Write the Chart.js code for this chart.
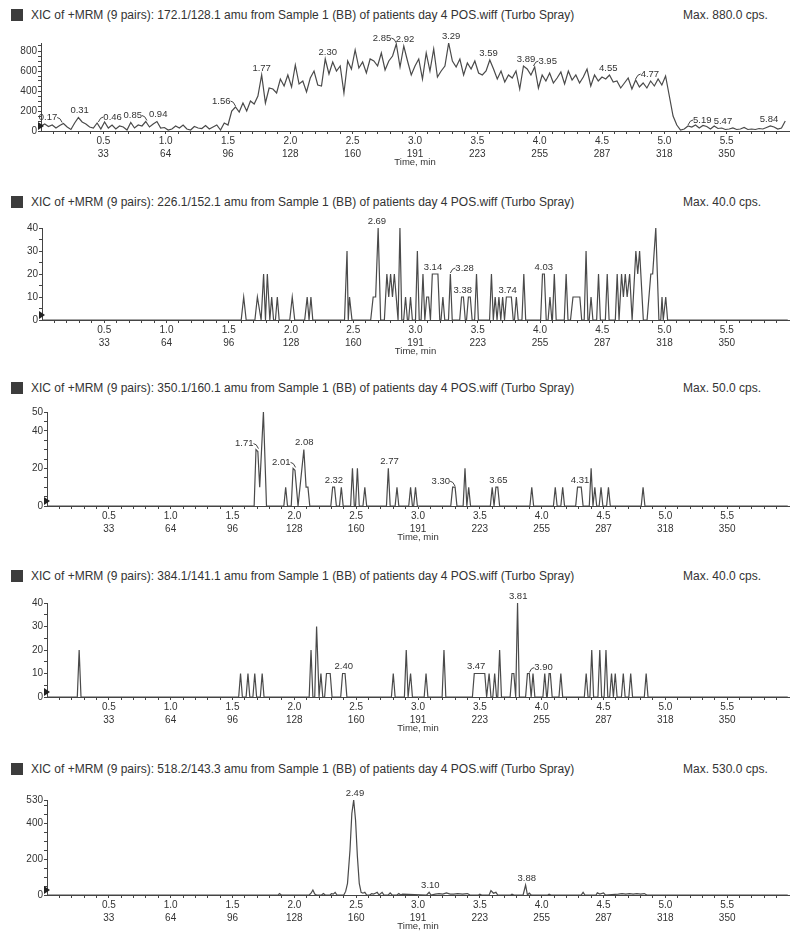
<!DOCTYPE html>
<html>
<head>
<meta charset="utf-8">
<script src="https://cdn.jsdelivr.net/npm/chart.js@4.4.1/dist/chart.umd.min.js"></script>
<style>
body { margin: 0; background: #fff; width: 800px; height: 937px; position: relative; overflow: hidden; font-family: "Liberation Sans", Arial, sans-serif; }
.title { position: absolute; left: 11px; font-size: 12px; color: #333; white-space: nowrap; line-height: 14px; }
.title .sq { display: inline-block; width: 12px; height: 12px; background: #3c3c3c; vertical-align: -2px; margin-right: 8px; }
.max { position: absolute; left: 683px; font-size: 12px; color: #333; line-height: 14px; white-space: nowrap; }
canvas { position: absolute; left: 0; }
</style>
</head>
<body>
<script>
// ---- axis labels ----
const xMajor = [0.5, 1.0, 1.5, 2.0, 2.5, 3.0, 3.5, 4.0, 4.5, 5.0, 5.5];
const scanLabels = [33, 64, 96, 128, 160, 191, 223, 255, 287, 318, 350];

const titles = [
  "XIC of +MRM (9 pairs): 172.1/128.1 amu from Sample 1 (BB) of patients day 4 POS.wiff (Turbo Spray)",
  "XIC of +MRM (9 pairs): 226.1/152.1 amu from Sample 1 (BB) of patients day 4 POS.wiff (Turbo Spray)",
  "XIC of +MRM (9 pairs): 350.1/160.1 amu from Sample 1 (BB) of patients day 4 POS.wiff (Turbo Spray)",
  "XIC of +MRM (9 pairs): 384.1/141.1 amu from Sample 1 (BB) of patients day 4 POS.wiff (Turbo Spray)",
  "XIC of +MRM (9 pairs): 518.2/143.3 amu from Sample 1 (BB) of patients day 4 POS.wiff (Turbo Spray)"
];
const maxLabels = ["Max. 880.0 cps.", "Max. 40.0 cps.", "Max. 50.0 cps.", "Max. 40.0 cps.", "Max. 530.0 cps."];
const yMax = [880, 40, 50, 40, 530];
const yMajor1 = [0, 200, 400, 600, 800];
const yMajor2 = [0, 10, 20, 30, 40];
const yMajor3 = [0, 20, 40, 50];
const yMajor4 = [0, 10, 20, 30, 40];
const yMajor5 = [0, 200, 400, 530];

// ---- 172.1/128.1 ----
const times1 = [
  0.00,0.03,0.06,0.09,0.12,0.15,0.18,0.21,0.24,0.27,
  0.30,0.33,0.36,0.39,0.42,0.45,0.48,0.51,0.54,0.57,
  0.60,0.63,0.66,0.69,0.72,0.75,0.78,0.81,0.84,0.87,
  0.90,0.93,0.96,0.99,1.02,1.05,1.08,1.11,1.14,1.17,
  1.20,1.23,1.26,1.29,1.32,1.35,1.38,1.41,1.44,1.47,
  1.50,1.53,1.56,1.59,1.62,1.65,1.68,1.71,1.74,1.77,
  1.80,1.83,1.86,1.89,1.92,1.95,1.98,2.01,2.04,2.07,
  2.10,2.13,2.16,2.19,2.22,2.25,2.28,2.31,2.34,2.37,
  2.40,2.43,2.46,2.49,2.52,2.55,2.58,2.61,2.64,2.67,
  2.70,2.73,2.76,2.79,2.82,2.85,2.88,2.91,2.94,2.97,
  3.00,3.03,3.06,3.09,3.12,3.15,3.18,3.21,3.24,3.27,
  3.30,3.33,3.36,3.39,3.42,3.45,3.48,3.51,3.54,3.57,
  3.60,3.63,3.66,3.69,3.72,3.75,3.78,3.81,3.84,3.87,
  3.90,3.93,3.96,3.99,4.02,4.05,4.08,4.11,4.14,4.17,
  4.20,4.23,4.26,4.29,4.32,4.35,4.38,4.41,4.44,4.47,
  4.50,4.53,4.56,4.59,4.62,4.65,4.68,4.71,4.74,4.77,
  4.80,4.83,4.86,4.89,4.92,4.95,4.98,5.01,5.04,5.07,
  5.10,5.13,5.16,5.19,5.22,5.25,5.28,5.31,5.34,5.37,
  5.40,5.43,5.46,5.49,5.52,5.55,5.58,5.61,5.64,5.67,
  5.70,5.73,5.76,5.79,5.82,5.85,5.88,5.91,5.94,5.97
];
const values1 = [
  50,70,45,60,30,55,75,40,15,80,
  135,90,70,40,30,80,20,90,30,60,
  20,50,40,10,85,30,60,50,95,40,
  70,95,30,35,10,20,50,30,60,20,
  10,45,30,25,55,20,40,60,10,80,
  60,200,240,190,280,200,300,270,350,560,
  280,430,420,380,520,450,560,440,660,470,
  500,390,530,600,460,450,720,570,690,600,
  650,380,700,620,810,630,690,580,720,700,
  650,780,610,700,750,870,640,850,700,560,
  650,720,520,780,600,820,540,600,650,880,
  700,640,720,560,680,620,700,580,560,600,
  710,620,520,600,490,560,530,600,420,650,
  620,560,640,430,560,500,580,480,530,590,
  470,600,510,560,480,540,620,450,560,500,
  540,520,560,490,500,430,480,530,420,510,
  440,480,430,500,450,520,460,550,350,150,
  60,10,20,50,40,60,30,55,45,20,
  50,25,30,15,20,30,15,20,35,15,
  20,15,25,20,35,50,40,20,30,100
];
const peaks1 = [0.17, 0.31, 0.46, 0.85, 0.94, 1.56, 1.77, 2.30, 2.85, 2.92, 3.29, 3.59, 3.89, 3.95, 4.55, 4.77, 5.19, 5.47, 5.84];

// ---- 226.1/152.1 ----
const times2 = [0, 1.60, 1.62, 1.64, 1.71, 1.73, 1.76, 1.78, 1.795, 1.81, 1.83, 1.845, 1.86, 1.875, 1.89, 1.905,
  1.99, 2.01, 2.03, 2.11, 2.13, 2.145, 2.16, 2.175, 2.43, 2.45, 2.46, 2.47, 2.49, 2.64, 2.66, 2.68, 2.70, 2.72,
  2.75, 2.77, 2.785, 2.80, 2.815, 2.83, 2.845, 2.86, 2.875, 2.89, 2.905, 2.92, 2.935, 2.945, 2.96, 2.975,
  3.00, 3.015, 3.03, 3.045, 3.06, 3.075, 3.09, 3.105, 3.12, 3.135, 3.18, 3.195, 3.205, 3.22, 3.235, 3.265, 3.28, 3.295,
  3.355, 3.37, 3.385, 3.40, 3.41, 3.425, 3.44, 3.455, 3.475, 3.49, 3.505, 3.595, 3.61, 3.625, 3.64, 3.655, 3.67, 3.685,
  3.70, 3.715, 3.73, 3.77, 3.785, 3.795, 3.81, 3.825, 3.855, 3.87, 3.885, 4.005, 4.02, 4.035, 4.05, 4.065, 4.08, 4.095,
  4.10, 4.115, 4.13, 4.195, 4.21, 4.225, 4.245, 4.265, 4.32, 4.335, 4.355, 4.37, 4.385, 4.395, 4.41, 4.425, 4.455, 4.47, 4.485,
  4.525, 4.54, 4.555, 4.605, 4.62, 4.635, 4.64, 4.655, 4.67, 4.685, 4.70, 4.72, 4.74, 4.77, 4.785, 4.80, 4.83, 4.86,
  4.89, 4.905, 4.93, 4.955, 4.97, 4.98, 4.99, 5.01, 5.025, 5.99];
const values2 = [0, 0, 10, 0, 0, 10, 0, 20, 0, 20, 0, 10, 0, 0, 10, 0,
  0, 10, 0, 0, 10, 0, 10, 0, 0, 30, 0, 10, 0, 0, 10, 10, 40, 0,
  0, 20, 10, 20, 10, 20, 10, 0, 40, 0, 0, 10, 0, 0, 10, 0,
  0, 30, 0, 0, 20, 0, 10, 10, 0, 20, 20, 0, 0, 10, 0, 0, 20, 0,
  0, 10, 10, 0, 0, 10, 10, 0, 0, 20, 0, 0, 20, 0, 10, 0, 10, 0,
  10, 0, 10, 10, 0, 0, 10, 0, 0, 20, 0, 0, 20, 20, 0, 0, 10, 0,
  0, 20, 0, 0, 20, 0, 0, 10, 10, 0, 0, 30, 0, 0, 10, 0, 0, 20, 0,
  0, 20, 0, 0, 20, 0, 0, 20, 10, 20, 10, 20, 0, 30, 20, 30, 0, 0,
  20, 20, 40, 0, 0, 10, 0, 10, 0, 0];
const peaks2 = [2.69, 3.14, 3.28, 3.38, 3.74, 4.03];

// ---- 350.1/160.1 ----
const times3 = [0, 1.675, 1.69, 1.705, 1.72, 1.75, 1.775, 1.915, 1.93, 1.945, 1.975, 1.99, 2.005, 2.03, 2.077, 2.095, 2.11, 2.125,
  2.295, 2.31, 2.325, 2.34, 2.365, 2.38, 2.395, 2.455, 2.47, 2.485, 2.495, 2.51, 2.525, 2.555, 2.57, 2.585,
  2.745, 2.76, 2.775, 2.815, 2.83, 2.845, 2.925, 2.94, 2.955, 2.965, 2.98, 2.995, 3.265, 3.28, 3.30, 3.315,
  3.365, 3.38, 3.395, 3.41, 3.425, 3.585, 3.60, 3.615, 3.63, 3.645, 3.66, 3.905, 3.92, 3.935, 4.095, 4.11, 4.125,
  4.155, 4.17, 4.185, 4.275, 4.29, 4.32, 4.335, 4.385, 4.40, 4.415, 4.43, 4.445, 4.465, 4.48, 4.495, 4.525, 4.54, 4.555,
  4.805, 4.82, 4.835, 5.99];
const values3 = [0, 0, 30, 29, 10, 50, 0, 0, 10, 0, 0, 20, 19, 0, 30, 10, 10, 0,
  0, 10, 10, 0, 0, 10, 0, 0, 20, 0, 0, 20, 0, 0, 10, 0,
  0, 20, 0, 0, 10, 0, 0, 10, 0, 0, 10, 0, 0, 10, 10, 0,
  0, 20, 0, 10, 0, 0, 10, 0, 10, 10, 0, 0, 10, 0, 0, 10, 0,
  0, 10, 0, 0, 10, 10, 0, 0, 20, 0, 10, 0, 0, 10, 0, 0, 10, 0,
  0, 10, 0, 0];
const peaks3 = [1.71, 2.01, 2.08, 2.32, 2.77, 3.30, 3.65, 4.31];

// ---- 384.1/141.1 ----
const times4 = [0, 0.245, 0.26, 0.275, 1.55, 1.565, 1.58, 1.61, 1.625, 1.64, 1.665, 1.68, 1.695, 1.725, 1.74, 1.755,
  2.12, 2.135, 2.15, 2.165, 2.18, 2.20, 2.215, 2.23, 2.245, 2.26, 2.29, 2.305, 2.375, 2.39, 2.41, 2.425,
  2.785, 2.80, 2.815, 2.89, 2.905, 2.92, 2.94, 2.955, 3.05, 3.065, 3.08, 3.195, 3.21, 3.225,
  3.44, 3.455, 3.54, 3.555, 3.575, 3.59, 3.605, 3.62, 3.635, 3.645, 3.66, 3.675, 3.745, 3.76, 3.775, 3.79, 3.805, 3.82,
  3.87, 3.885, 3.90, 3.915, 3.93, 3.945, 4.01, 4.025, 4.04, 4.045, 4.06, 4.07, 4.085, 4.14, 4.155, 4.17,
  4.345, 4.36, 4.375, 4.39, 4.405, 4.42, 4.455, 4.47, 4.485, 4.505, 4.52, 4.535, 4.55, 4.565, 4.58, 4.595, 4.61,
  4.645, 4.66, 4.675, 4.705, 4.72, 4.735, 4.83, 4.845, 4.86, 5.99];
const values4 = [0, 0, 20, 0, 0, 10, 0, 0, 10, 0, 0, 10, 0, 0, 10, 0,
  0, 20, 0, 0, 30, 0, 10, 0, 0, 10, 10, 0, 0, 10, 10, 0,
  0, 10, 0, 0, 20, 0, 10, 0, 0, 10, 0, 0, 20, 0,
  0, 10, 10, 0, 10, 0, 0, 10, 0, 0, 20, 0, 0, 10, 10, 0, 40, 0,
  0, 10, 10, 0, 10, 0, 0, 10, 0, 0, 10, 10, 0, 0, 10, 0,
  0, 10, 0, 0, 20, 0, 0, 20, 0, 0, 20, 0, 0, 10, 0, 10, 0,
  0, 10, 0, 0, 10, 0, 0, 10, 0, 0];
const peaks4 = [2.40, 3.47, 3.81, 3.90];

// ---- 518.2/143.3 ----
const times5 = [0, 1.87, 1.88, 1.895, 2.12, 2.135, 2.15, 2.165, 2.18, 2.22, 2.235, 2.25, 2.29, 2.30, 2.315, 2.33, 2.345,
  2.40, 2.415, 2.43, 2.45, 2.465, 2.48, 2.495, 2.51, 2.525, 2.54, 2.555, 2.57, 2.585, 2.61, 2.625, 2.64, 2.655, 2.67, 2.685,
  2.71, 2.725, 2.76, 2.775, 2.79, 2.83, 2.845, 2.86, 2.875, 3.07, 3.09, 3.105, 3.14, 3.17, 3.20, 3.23, 3.26, 3.29, 3.32,
  3.36, 3.40, 3.42, 3.49, 3.50, 3.515, 3.575, 3.59, 3.61, 3.63, 3.645, 3.75, 3.76, 3.775, 3.85, 3.87, 3.885, 3.90, 3.915,
  4.05, 4.06, 4.075, 4.32, 4.335, 4.35, 4.44, 4.45, 4.47, 4.50, 4.515, 4.62, 4.65, 4.68, 4.71, 4.74, 4.77, 4.80, 4.83, 4.85, 5.99];
const values5 = [0, 0, 8, 0, 0, 10, 28, 5, 0, 0, 8, 0, 0, 8, 5, 15, 0,
  0, 20, 65, 250, 455, 530, 418, 214, 65, 15, 10, 15, 0, 0, 8, 5, 10, 15, 0,
  15, 0, 0, 12, 0, 0, 8, 0, 5, 0, 15, 0, 5, 8, 5, 12, 5, 5, 8,
  5, 8, 0, 0, 5, 0, 0, 25, 10, 15, 0, 0, 5, 0, 0, 55, 0, 10, 0,
  0, 5, 0, 0, 15, 0, 0, 12, 5, 12, 0, 5, 8, 5, 8, 5, 8, 5, 8, 0, 0];
const peaks5 = [2.49, 3.10, 3.88];

// ---- layout (pixels) and label placement: -1 text left of peak, 1 right, 0 above ----
const sides1 = [-1, 0, 1, -1, 0, -1, 0, 0, -1, 0, 0, 0, 0, 1, 0, 1, 1, 0, 0];
const sides2 = [0, 0, 1, 0, 0, 0];
const sides3 = [-1, -1, 0, 0, 0, -1, 0, 0];
const sides4 = [0, 0, 0, 1];
const sides5 = [0, 0, 0];
const titleY = [15, 202, 388, 576, 769];
const plotTop = [43, 228, 412, 603, 800];
const zeroY = [131, 320, 506, 697, 895];
const axisW = [41, 42, 47, 47, 47];
const padTop = 16;
const xAxisH = 37;

const panels = [
  { t: times1, v: values1, major: yMajor1, step: 50, peaks: peaks1, sides: sides1 },
  { t: times2, v: values2, major: yMajor2, step: 5, peaks: peaks2, sides: sides2 },
  { t: times3, v: values3, major: yMajor3, step: 5, peaks: peaks3, sides: sides3 },
  { t: times4, v: values4, major: yMajor4, step: 5, peaks: peaks4, sides: sides4 },
  { t: times5, v: values5, major: yMajor5, step: 50, peaks: peaks5, sides: sides5 }
];

const FONT = '"Liberation Sans", Arial, sans-serif';
const INK = '#333';

// peak labels + the small marker at the origin
const peakLabels = {
  id: 'peakLabels',
  afterDatasetsDraw(chart, args, opts) {
    const { ctx, scales: { x, y } } = chart;
    const pts = chart.data.datasets[0].data;
    ctx.save();
    ctx.font = '9.5px ' + FONT;
    ctx.fillStyle = INK;
    ctx.strokeStyle = '#444';
    ctx.lineWidth = 1;
    ctx.textBaseline = 'bottom';
    (opts.peaks || []).forEach((t, k) => {
      let best = 0;
      pts.forEach(p => { if (Math.abs(p.x - t) <= 0.021 && p.y > best) best = p.y; });
      const px = x.getPixelForValue(t), py = y.getPixelForValue(best);
      const side = opts.sides[k];
      if (side === 0) {
        ctx.textAlign = 'center';
        ctx.fillText(t.toFixed(2), px, py - 2);
      } else {
        ctx.textAlign = side < 0 ? 'right' : 'left';
        ctx.fillText(t.toFixed(2), px + side * 5, py - 1);
        ctx.beginPath();
        ctx.moveTo(px + side * 5, py - 6);
        ctx.quadraticCurveTo(px + side * 2, py - 6, px, py - 1);
        ctx.stroke();
      }
    });
    const l = chart.chartArea.left, b = chart.chartArea.bottom;
    ctx.fillStyle = '#222';
    ctx.beginPath();
    ctx.moveTo(l - 3, b - 9);
    ctx.lineTo(l + 3, b - 5);
    ctx.lineTo(l - 3, b - 1);
    ctx.closePath();
    ctx.fill();
    ctx.restore();
  }
};

panels.forEach((p, i) => {
  const tdiv = document.createElement('div');
  tdiv.className = 'title';
  tdiv.style.top = (titleY[i] - 7) + 'px';
  tdiv.innerHTML = '<span class="sq"></span>' + titles[i];
  document.body.appendChild(tdiv);
  const mdiv = document.createElement('div');
  mdiv.className = 'max';
  mdiv.style.top = (titleY[i] - 7) + 'px';
  mdiv.textContent = maxLabels[i];
  document.body.appendChild(mdiv);

  const cv = document.createElement('canvas');
  const h = zeroY[i] - plotTop[i] + padTop + xAxisH;
  cv.width = 800; cv.height = h;
  cv.style.top = (plotTop[i] - padTop) + 'px';
  cv.style.width = '800px'; cv.style.height = h + 'px';
  document.body.appendChild(cv);

  const pts = p.t.map((t, k) => ({ x: t, y: p.v[k] }));
  const yTicks = [];
  for (let v = 0; v <= yMax[i] + 1e-9; v += p.step) yTicks.push(v);
  p.major.forEach(v => { if (!yTicks.includes(v)) yTicks.push(v); });
  const xTicks = [];
  for (let k = 1; k < 60; k++) xTicks.push(k / 10);

  new Chart(cv, {
    type: 'line',
    data: { datasets: [{ data: pts, borderColor: '#4a4a4a', borderWidth: 1.2, pointRadius: 0, tension: 0, fill: false }] },
    options: {
      responsive: false,
      animation: false,
      layout: { padding: { top: padTop, right: 11, left: 0, bottom: 0 } },
      plugins: { legend: { display: false }, tooltip: { enabled: false }, peakLabels: { peaks: p.peaks, sides: p.sides } },
      scales: {
        x: {
          type: 'linear', min: 0, max: 6.0,
          afterFit: s => { s.height = xAxisH; },
          afterBuildTicks: s => { s.ticks = xTicks.map(v => ({ value: v })); },
          grid: { drawOnChartArea: false, tickLength: 3, color: '#444' },
          border: { color: '#444', width: 1 },
          ticks: {
            autoSkip: false, maxRotation: 0, padding: 1, color: INK,
            font: { family: FONT, size: 10, lineHeight: 1.3 },
            callback: v => {
              const k = xMajor.findIndex(m => Math.abs(m - v) < 1e-6);
              return k < 0 ? '' : [xMajor[k].toFixed(1), String(scanLabels[k])];
            }
          },
          title: { display: true, text: 'Time, min', color: INK, font: { family: FONT, size: 9.5 }, padding: { top: 0, bottom: 0 } }
        },
        y: {
          min: 0, max: yMax[i],
          afterFit: s => { s.width = axisW[i]; },
          afterBuildTicks: s => { s.ticks = yTicks.map(v => ({ value: v })); },
          grid: { drawOnChartArea: false, tickLength: 3, color: '#444' },
          border: { color: '#444', width: 1 },
          ticks: {
            autoSkip: false, padding: 1, color: INK,
            font: { family: FONT, size: 10 },
            callback: v => p.major.includes(v) ? String(v) : ''
          }
        }
      }
    },
    plugins: [peakLabels]
  });
});
</script>
</body>
</html>
